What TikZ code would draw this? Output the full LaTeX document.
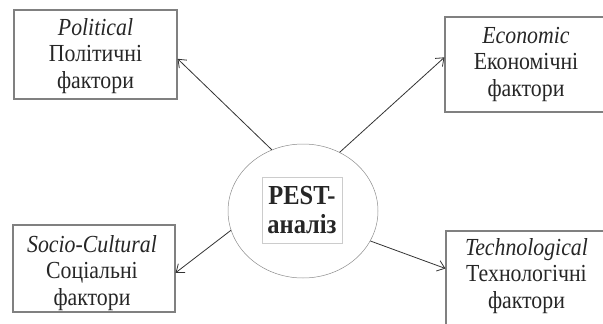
\documentclass[tikz,border=0pt]{standalone}
\usepackage{fontspec}
\setmainfont[FakeStretch=0.89]{Liberation Serif}
\usetikzlibrary{shapes.geometric,arrows.meta}
\begin{document}
\begin{tikzpicture}[x=1pt,y=-1pt,
  factor/.style={draw=black!50, line width=1.2pt, inner sep=0pt},
  factortext/.style={inner sep=0pt, align=center,
    font=\fontsize{24.5}{26.5}\selectfont, text=black!85},
  link/.style={draw=black!80, line width=0.8pt, -{Straight Barb[length=7pt,width=11pt,line width=0.8pt]}}]
\useasboundingbox (0,0) rectangle (603,324);
\node[factor, minimum width=163pt, minimum height=89pt] (pol) at (95.5,54.5) {};
\node[factortext] (polt) at (95.5,56) {\textit{Political}\\Політичні\\фактори};
\node[factor, minimum width=162pt, minimum height=95pt] (eco) at (526,64.5) {};
\node[factortext] (ecot) at (526,64) {\textit{Economic}\\Економічні\\фактори};
\node[factor, minimum width=162pt, minimum height=87pt] (soc) at (94,268.5) {};
\node[factortext] (soct) at (92,273) {\textit{Socio-Cultural}\\Соціальні\\фактори};
\node[factor, minimum width=162pt, minimum height=95pt] (tech) at (527,278.5) {};
\node[factortext] (techt) at (526.5,276) {\textit{Technological}\\Технологічні\\фактори};
\node[ellipse, draw=black!45, line width=0.5pt, minimum width=150pt, minimum height=134pt, inner sep=0pt] (pest) at (303,211) {};
\node[draw=black!20, line width=0.5pt, minimum width=80pt, minimum height=66pt, inner sep=0pt,
  align=center, font=\fontsize{27.5}{28.5}\selectfont\bfseries, text=black!85] (core) at (302,210) {PEST-\\аналіз};
\draw[link] (pest.117) -- (pol.-3.2);
\draw[link] (pest.58) -- (eco.175.4);
\draw[link] (pest.195) -- (soc.-3.2);
\draw[link] (pest.-24) -- (tech.173.3);
\end{tikzpicture}
\end{document}
